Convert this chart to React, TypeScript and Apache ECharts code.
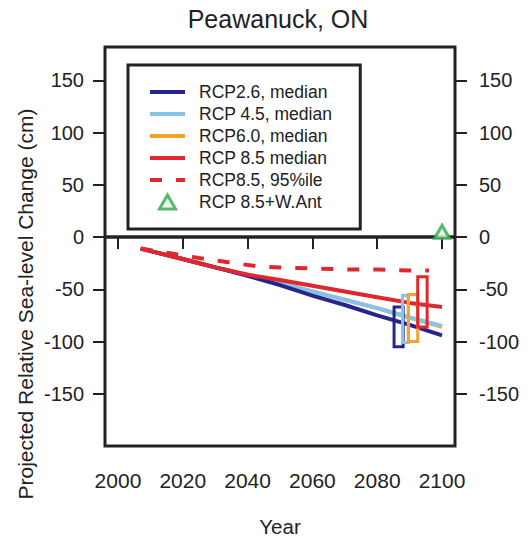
import React, { useEffect, useRef } from "react";
import * as echarts from "echarts";

// ---- data ----
const years = [2007, 2020, 2030, 2040, 2050, 2060, 2070, 2080, 2090, 2100];
const rcp26 = [-11, -21, -29, -37, -46, -56, -65, -75, -84, -94];
const rcp45 = [-11, -21, -29, -36, -44, -52, -60, -68, -77, -85];
const rcp60 = [-11, -21, -29, -36, -44, -52, -60, -68, -77, -86];
const rcp85 = [-11, -21, -29, -36, -41, -46.5, -52, -57.5, -63, -67];
const p95Years = [2007, 2017, 2025, 2034, 2043, 2050, 2060, 2070, 2080, 2090, 2096];
const rcp85p95 = [-11, -16, -20, -24, -28, -29, -30, -31, -31, -32, -32];
const boxStart = [2085.2, 2087.8, 2089.6, 2092.5];
const boxEnd = [2088, 2089.6, 2092.5, 2095.4];
const boxLow = [-105, -101, -100, -86];
const boxHigh = [-67, -56, -55, -38];
const wantYear = [2100];
const wantValue = [5];
const seriesNames = [
  "RCP2.6, median",
  "RCP 4.5, median",
  "RCP6.0, median",
  "RCP 8.5 median",
  "RCP8.5, 95%ile",
  "RCP 8.5+W.Ant",
];
const xTicks = [2000, 2020, 2040, 2060, 2080, 2100];
const yTicks = [-150, -100, -50, 0, 50, 100, 150];
const titleText = "Peawanuck, ON";
const yName = "Projected Relative Sea-level Change (cm)";
const xName = "Year";

const FONT = "'Liberation Sans', Arial, Helvetica, sans-serif";
const INK = "#222";
const colors = ["#26268a", "#86c3ea", "#f3a42a", "#e0282c"];
const green = "#2fa84a";
const TRIANGLE = "path://M7.5,0L15,13L0,13Z";

export default function App() {
  const ref = useRef<HTMLDivElement>(null);
  useEffect(() => {
    if (!ref.current) return;
    const chart = echarts.init(ref.current, null, { renderer: "svg" });
    const pair = (xs: number[], ys: number[]) => xs.map((x, i) => [x, ys[i]]);
    const lineSeries = (name: string, data: number[][], color: string, extra: any = {}) => ({
      type: "line",
      name,
      data,
      showSymbol: false,
      symbol: "none",
      lineStyle: { color, width: 4, ...(extra.lineStyle || {}) },
      itemStyle: { color },
      z: extra.z ?? 3,
      ...(extra.markLine ? { markLine: extra.markLine } : {}),
    });
    const axisTick = (vals: number[]) => ({
      show: true,
      length: 12,
      lineStyle: { color: INK, width: 2 },
      customValues: vals,
    });
    const plain = (v: number) => String(v);
    const option: any = {
      animation: false,
      backgroundColor: "#fff",
      grid: {
        left: 105,
        right: 76,
        top: 47,
        bottom: 87,
        show: true,
        borderColor: INK,
        borderWidth: 3,
        backgroundColor: "transparent",
        z: 10,
      },
      xAxis: {
        type: "value",
        min: 1996,
        max: 2104,
        axisLine: { show: false },
        splitLine: { show: false },
        axisTick: axisTick(xTicks),
        axisLabel: {
          customValues: xTicks,
          formatter: plain,
          color: INK,
          fontFamily: FONT,
          fontSize: 21,
          margin: 24,
        },
        name: xName,
        nameLocation: "middle",
        nameGap: 70,
        nameTextStyle: { color: INK, fontFamily: FONT, fontSize: 20.5 },
      },
      yAxis: [
        {
          type: "value",
          min: -200,
          max: 182,
          position: "left",
          axisLine: { show: false },
          splitLine: { show: false },
          axisTick: axisTick(yTicks),
          axisLabel: {
            customValues: yTicks,
            formatter: plain,
            color: INK,
            fontFamily: FONT,
            fontSize: 20,
            margin: 21,
          },
        },
        {
          type: "value",
          min: -200,
          max: 182,
          position: "right",
          axisLine: { show: false },
          splitLine: { show: false },
          axisTick: axisTick(yTicks),
          axisLabel: {
            customValues: yTicks,
            formatter: plain,
            color: INK,
            fontFamily: FONT,
            fontSize: 20,
            margin: 24,
          },
        },
      ],
      legend: {
        orient: "vertical",
        left: 128,
        top: 65,
        backgroundColor: "#fff",
        borderColor: INK,
        borderWidth: 3,
        padding: [18, 28, 18, 20],
        itemWidth: 35,
        itemHeight: 14,
        itemGap: 4,
        selectedMode: false,
        symbolKeepAspect: true,
        lineStyle: { width: 4 },
        textStyle: {
          color: INK,
          fontFamily: FONT,
          fontSize: 17.5,
          lineHeight: 17,
          padding: [0, 0, 0, 9],
        },
        data: seriesNames.map((n, i) =>
          i < 5
            ? { name: n, itemStyle: { opacity: 0 } }
            : {
                name: n,
                icon: TRIANGLE,
                itemStyle: { color: "#e9f6ea", borderColor: green, borderWidth: 3 },
              }
        ),
        z: 20,
      },
      series: [
        lineSeries(seriesNames[2], pair(years, rcp60), colors[2], {
          markLine: {
            silent: true,
            symbol: "none",
            label: { show: false },
            lineStyle: { color: INK, width: 3.5, type: "solid" },
            data: [{ yAxis: 0 }],
          },
        }),
        lineSeries(seriesNames[1], pair(years, rcp45), colors[1]),
        lineSeries(seriesNames[0], pair(years, rcp26), colors[0]),
        lineSeries(seriesNames[3], pair(years, rcp85), colors[3]),
        lineSeries(seriesNames[4], pair(p95Years, rcp85p95), colors[3], {
          lineStyle: { type: [12, 14] },
        }),
        {
          type: "custom",
          name: "ranges",
          z: 5,
          encode: { x: [0, 1], y: [2, 3] },
          data: boxStart.map((s, i) => [s, boxEnd[i], boxLow[i], boxHigh[i], i]),
          renderItem: (_params: any, api: any) => {
            const p0 = api.coord([api.value(0), api.value(3)]);
            const p1 = api.coord([api.value(1), api.value(2)]);
            const idx = api.value(4);
            return {
              type: "rect",
              shape: { x: p0[0], y: p0[1], width: p1[0] - p0[0], height: p1[1] - p0[1] },
              style: { fill: "none", stroke: colors[idx], lineWidth: 3 },
            };
          },
        },
        {
          type: "scatter",
          name: seriesNames[5],
          data: pair(wantYear, wantValue),
          symbol: "triangle",
          symbolSize: [15, 13],
          itemStyle: { color: "#e9f6ea", borderColor: green, borderWidth: 3 },
          z: 12,
        },
      ],
      graphic: [
        {
          type: "text",
          x: 278,
          y: 19,
          style: {
            text: titleText,
            fill: INK,
            font: `25px ${FONT}`,
            textAlign: "center",
            textVerticalAlign: "middle",
          },
        },
        {
          type: "text",
          x: 25,
          y: 304,
          rotation: Math.PI / 2,
          style: {
            text: yName,
            fill: INK,
            font: `21px ${FONT}`,
            textAlign: "center",
            textVerticalAlign: "middle",
          },
        },
      ],
    };
    chart.setOption(option);
    return () => chart.dispose();
  }, []);
  return (
    <div
      ref={ref}
      style={{ position: "fixed", left: 0, top: 0, width: 531, height: 542, background: "#fff" }}
    />
  );
}
